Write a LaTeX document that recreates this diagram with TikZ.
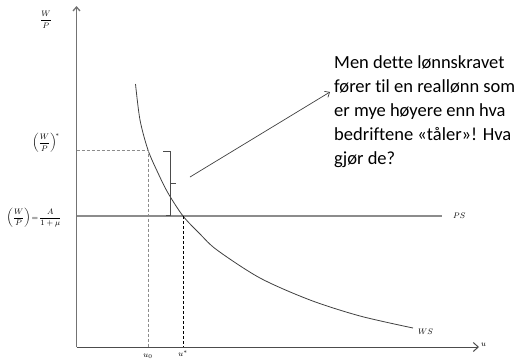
\documentclass[tikz,border=0pt]{standalone}
\usepackage{amsmath}
\usepackage{fontspec}
\setmainfont{Carlito}[Ligatures={NoCommon}]
\usetikzlibrary{arrows.meta}
\begin{document}
\begin{tikzpicture}[x=1pt,y=-1pt,
  axis/.style={draw=black!55,line width=1.3pt},
  guide/.style={draw=black!45,line width=1pt,dash pattern=on 3pt off 2pt},
  guideb/.style={draw=black,line width=0.7pt,dash pattern=on 3pt off 2pt},
  curve/.style={draw=black!75,line width=0.8pt},
  lbl/.style={inner sep=0pt,font=\fontsize{8}{9}\selectfont},
  note/.style={inner sep=0pt,anchor=north west,align=left,font=\fontsize{18.5}{24}\selectfont}]
\useasboundingbox (0,0) rectangle (520,362);
% axes
\coordinate (O) at (76.5,347);
\coordinate (ytop) at (76.5,6);
\coordinate (xend) at (479,347);
\draw[axis,-{Straight Barb[length=4pt,width=7pt]}] (O) -- (ytop);
\draw[axis,draw=black!70,line width=1pt,-{Straight Barb[length=5pt,width=9pt]}] (O) -- (xend);
\node[lbl,anchor=west] (ulab) at (481,345) {$u$};
\node[lbl] (wplab) at (46,20) {$\dfrac{W}{P}$};
% PS line
\coordinate (psl) at (76.5,216);
\coordinate (psr) at (442,216);
\draw[draw=black!45,line width=1.3pt] (psl) -- (psr);
\node[lbl,anchor=west] (pslab) at (453,216) {$PS$};
% WS curve
\draw[curve] plot[smooth] coordinates {(135.5,84) (140,120) (148,150) (158,173) (168,193) (183,216) (200,234) (217,250) (260,278) (310,300) (360,316) (413,328)};
\node[lbl,anchor=west] (wslab) at (418,332) {$WS$};
% guides
\coordinate (s0) at (148,150);
\coordinate (sy) at (76.5,150);
\coordinate (sx) at (148,347);
\coordinate (e0) at (183,216);
\coordinate (ex) at (183,347);
\draw[guide] (sy) -- (s0) -- (sx);
\draw[guideb] (e0) -- (ex);
\node[lbl] (wpstar) at (46,143) {$\left(\dfrac{W}{P}\right)^{\!*}$};
\node[lbl] (wpeq) at (34,218) {$\left(\dfrac{W}{P}\right)\!=\!\dfrac{A}{1+\mu}$};
\node[lbl] (u0) at (148,356) {$u_0$};
\node[lbl] (ustar) at (183,354) {$u^{*}$};
% brace
\draw[draw=black!70,line width=0.7pt] (163,151) -- (170,151) -- (170,215) -- (166,215);
\draw[draw=black!70,line width=0.7pt] (170,183) -- (176,183);
% annotation arrow
\coordinate (a0) at (190,177);
\coordinate (a1) at (330,92);
\draw[draw=black!75,line width=0.7pt,-{Straight Barb[length=4pt,width=7pt]}] (a0) -- (a1);
\node[note] (txt) at (334,55.5) {Men dette lønnskravet\\fører til en reallønn som\\er mye høyere enn hva\\bedriftene «tåler»! Hva\\gjør de?};
\end{tikzpicture}
\end{document}
